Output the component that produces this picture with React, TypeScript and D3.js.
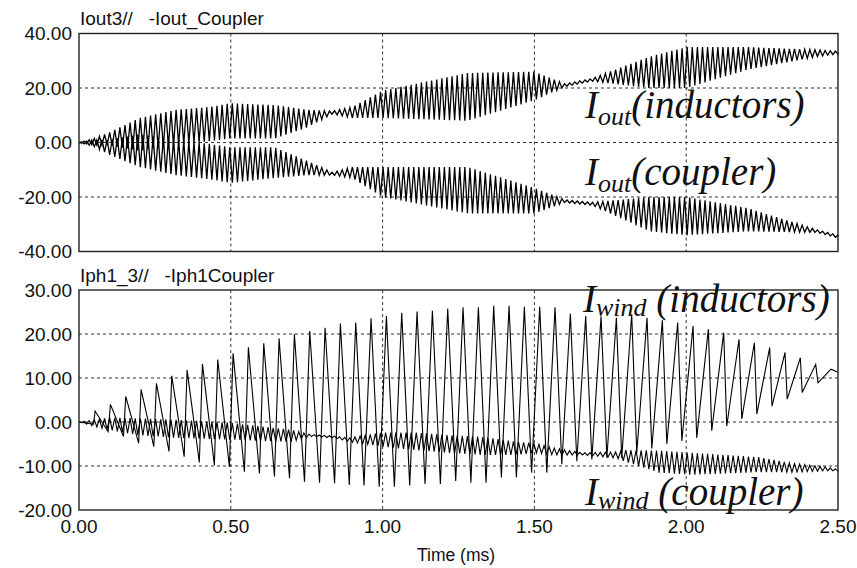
import React from 'react';
import * as d3 from 'd3';

// axes
const xTicks = [0, 0.5, 1.0, 1.5, 2.0, 2.5];
const topYTicks = [40, 20, 0, -20, -40];
const botYTicks = [30, 20, 10, 0, -10, -20];
const topGrid = [20, 0, -20];
const botGrid = [20, 10, 0, -10];
const vGrid = [0.5, 1.0, 1.5, 2.0];

// top panel: ripple band edges (A)
const topT = [0, 0.05, 0.1, 0.2, 0.32, 0.43, 0.5, 0.645, 0.75, 0.835, 0.9, 1.0, 1.28, 1.5, 1.6, 1.69, 1.88, 2.0, 2.2, 2.43, 2.5];
const outIndHi = [0, 1.5, 3.7, 9, 12, 13, 14.4, 13.7, 12, 11.5, 13, 19, 25.5, 26, 21.5, 23.5, 31.5, 35, 35, 34, 33.5];
const outIndLo = [0, -1, -1, -3, -1, 0.5, 1.5, 1.5, 5.5, 10.5, 9, 9, 8, 15.5, 20.5, 22.5, 20, 20, 26.7, 31.5, 32.5];
const outCplHi = [0, 1, 1, 3, 1, -0.5, -1.8, -1.8, -6.7, -11, -9, -9, -9, -16.7, -21, -22, -20, -20, -24, -32, -34];
const outCplLo = [0, -1.5, -4.5, -9, -12, -13.5, -14.8, -13, -12, -12, -13, -20, -26, -26, -22, -23, -32.6, -34, -32.6, -33, -35];

// bottom panel: winding current of the inductors, one entry per switching cycle
const windT0 = 0.053; // ms, first peak
const windPeriod = 0.0505; // ms
const windPeak = [2.5, 4.0, 5.8, 7.4, 8.8, 10.5, 11.8, 13.2, 14.2, 15.6, 17.0, 17.9, 19.0, 20.0, 20.7, 21.4, 22.4, 22.6, 23.6, 24.1, 24.8, 25.1, 25.3, 25.8, 26.1, 26.1, 26.4, 26.4, 26.2, 26.2, 26.1, 24.6, 24.1, 24.0, 23.7, 24.5, 23.7, 23.1, 22.6, 21.8, 21.1, 20.3, 18.8, 18.0, 16.9, 15.8, 14.6, 13.1, 12.0];
const windTrough = [-0.5, -2.2, -3.3, -4.8, -5.6, -6.7, -7.9, -9.2, -9.8, -10.2, -11.3, -11.7, -12.4, -12.8, -13.6, -13.8, -13.9, -14.3, -14.4, -14.7, -14.7, -14.4, -14.1, -14.1, -13.4, -13.8, -13.8, -12.6, -12.6, -11.5, -11.5, -9.6, -8.9, -8.5, -8.1, -8.1, -7.0, -6.0, -5.0, -4.3, -3.6, -2.0, -0.9, 0.7, 1.8, 3.6, 5.2, 6.7, 8.9];
// fraction of the cycle spent rising from trough to peak
const windRise = [0.1, 0.15, 0.15, 0.16, 0.17, 0.18, 0.19, 0.2, 0.22, 0.24, 0.26, 0.28, 0.3, 0.32, 0.34, 0.36, 0.38, 0.42, 0.46, 0.47, 0.48, 0.48, 0.48, 0.48, 0.48, 0.49, 0.5, 0.5, 0.52, 0.53, 0.54, 0.56, 0.58, 0.6, 0.62, 0.65, 0.67, 0.69, 0.71, 0.73, 0.76, 0.78, 0.8, 0.82, 0.84, 0.85, 0.86, 0.88, 0.85];
const windEnd = 11.3;

// bottom panel: coupler winding ripple band edges
const cplT = [0, 0.05, 0.1, 0.2, 0.32, 0.5, 0.6, 0.7, 0.76, 0.84, 0.89, 1.0, 1.11, 1.22, 1.33, 1.44, 1.5, 1.57, 1.66, 1.77, 1.8, 1.91, 2.02, 2.13, 2.24, 2.35, 2.46, 2.5];
const cplHi = [0, 0.5, 1, 0.8, 0.5, -0.2, -1, -1.8, -2.8, -3.2, -3.6, -2.4, -2.4, -3, -3.4, -4.5, -4.8, -6, -7, -6.8, -6.4, -6.5, -7, -7.5, -8, -9.4, -10.2, -10.8];
const cplLo = [0, -1, -1.8, -3, -3.6, -4, -4.3, -4.5, -3.3, -3.6, -4.5, -5.6, -6.4, -7, -7.5, -7.5, -7, -7.5, -7.5, -8.2, -9, -11.5, -12, -11.7, -11.4, -11.4, -11.1, -11.1];

const W = 857;
const H = 568;
const tMax = 2.5;

const x = d3.scaleLinear().domain([0, tMax]).range([79, 838]);
const yTop = d3.scaleLinear().domain([-40, 40]).range([251.5, 33.5]);
const yBot = d3.scaleLinear().domain([-20, 30]).range([510, 290]);

// 3x switching-frequency ripple between the read band edges
function ripple(times: number[], hi: number[], lo: number[], flip: boolean): [number, number][] {
  const hiS = d3.scaleLinear().domain(times).range(hi);
  const loS = d3.scaleLinear().domain(times).range(lo);
  const half = windPeriod / 6;
  const pts: [number, number][] = [];
  for (let j = 0; j * half <= tMax; j++) {
    const t = j * half;
    const up = (j % 2 === 0) !== flip;
    pts.push([t, up ? hiS(t) : loS(t)]);
  }
  pts.push([tMax, (hiS(tMax) + loS(tMax)) / 2]);
  return pts;
}

function windPoints(): [number, number][] {
  const pts: [number, number][] = [[0, 0]];
  windPeak.forEach((p, k) => {
    const tp = windT0 + k * windPeriod;
    pts.push([tp - windRise[k] * windPeriod, windTrough[k]]);
    pts.push([tp, p]);
  });
  pts.push([tMax, windEnd]);
  return pts;
}

const sans = 'Liberation Sans, Arial, sans-serif';
const labelStyle = { fontFamily: 'Liberation Serif', fontStyle: 'italic', fontSize: 39, fill: '#111' } as const;

function Panel({ y, yTicks, grid, title, titleY, paths, widths }: any) {
  const [y0, y1] = y.range();
  return (
    <g>
      <text x={80} y={titleY} fontFamily={sans} fontSize={19} fill="#111" style={{ whiteSpace: 'pre' }}>{title}</text>
      {grid.map((v: number) => (
        <line key={'h' + v} x1={x(0)} x2={x(tMax)} y1={y(v)} y2={y(v)} stroke="#333" strokeWidth={1} strokeDasharray="3,3" />
      ))}
      {vGrid.map((v) => (
        <line key={'v' + v} x1={x(v)} x2={x(v)} y1={y1} y2={y0} stroke="#333" strokeWidth={1} strokeDasharray="3,3" />
      ))}
      {paths.map((d: string, i: number) => (
        <path key={i} d={d} fill="none" stroke="#000" strokeWidth={widths[i]} />
      ))}
      <rect x={x(0)} y={y1} width={x(tMax) - x(0)} height={y0 - y1} fill="none" stroke="#222" strokeWidth={1.4} />
      {yTicks.map((v: number) => (
        <text key={'t' + v} x={72} y={y(v)} dy="0.36em" textAnchor="end" fontFamily={sans} fontSize={19} fill="#111">
          {v.toFixed(2)}
        </text>
      ))}
    </g>
  );
}

export default function App() {
  const lineTop = d3.line<[number, number]>().x((d) => x(d[0])).y((d) => yTop(d[1]));
  const lineBot = d3.line<[number, number]>().x((d) => x(d[0])).y((d) => yBot(d[1]));

  const topPaths = [
    lineTop(ripple(topT, outIndHi, outIndLo, false)) as string,
    lineTop(ripple(topT, outCplHi, outCplLo, true)) as string,
  ];
  const botPaths = [
    lineBot(ripple(cplT, cplHi, cplLo, false)) as string,
    lineBot(windPoints()) as string,
  ];

  return (
    <svg width={W} height={H} style={{ position: 'absolute', left: 0, top: 0, background: '#fff' }}>
      <rect width={W} height={H} fill="#fff" />
      <Panel y={yTop} yTicks={topYTicks} grid={topGrid} title={'Iout3//   -Iout_Coupler'} titleY={25} paths={topPaths} widths={[1.3, 1.3]} />
      <Panel y={yBot} yTicks={botYTicks} grid={botGrid} title={'Iph1_3//   -Iph1Coupler'} titleY={281.5} paths={botPaths} widths={[1.1, 1.1]} />

      {xTicks.map((v) => (
        <text key={'x' + v} x={x(v)} y={533} textAnchor="middle" fontFamily={sans} fontSize={19} fill="#111">
          {v.toFixed(2)}
        </text>
      ))}
      <text x={456} y={561} textAnchor="middle" fontFamily={sans} fontSize={17.5} fill="#111">Time (ms)</text>

      <text x={585} y={118} style={labelStyle}>I<tspan fontSize={26} dy={7}>out</tspan><tspan dy={-7}>(inductors)</tspan></text>
      <text x={585} y={185} style={labelStyle}>I<tspan fontSize={26} dy={7}>out</tspan><tspan dy={-7}>(coupler)</tspan></text>
      <text x={583} y={312} style={labelStyle}>I<tspan fontSize={26} dy={4}>wind</tspan><tspan dy={-4}> (inductors)</tspan></text>
      <text x={585} y={505} style={labelStyle}>I<tspan fontSize={26} dy={4}>wind</tspan><tspan dy={-4}> (coupler)</tspan></text>
    </svg>
  );
}
